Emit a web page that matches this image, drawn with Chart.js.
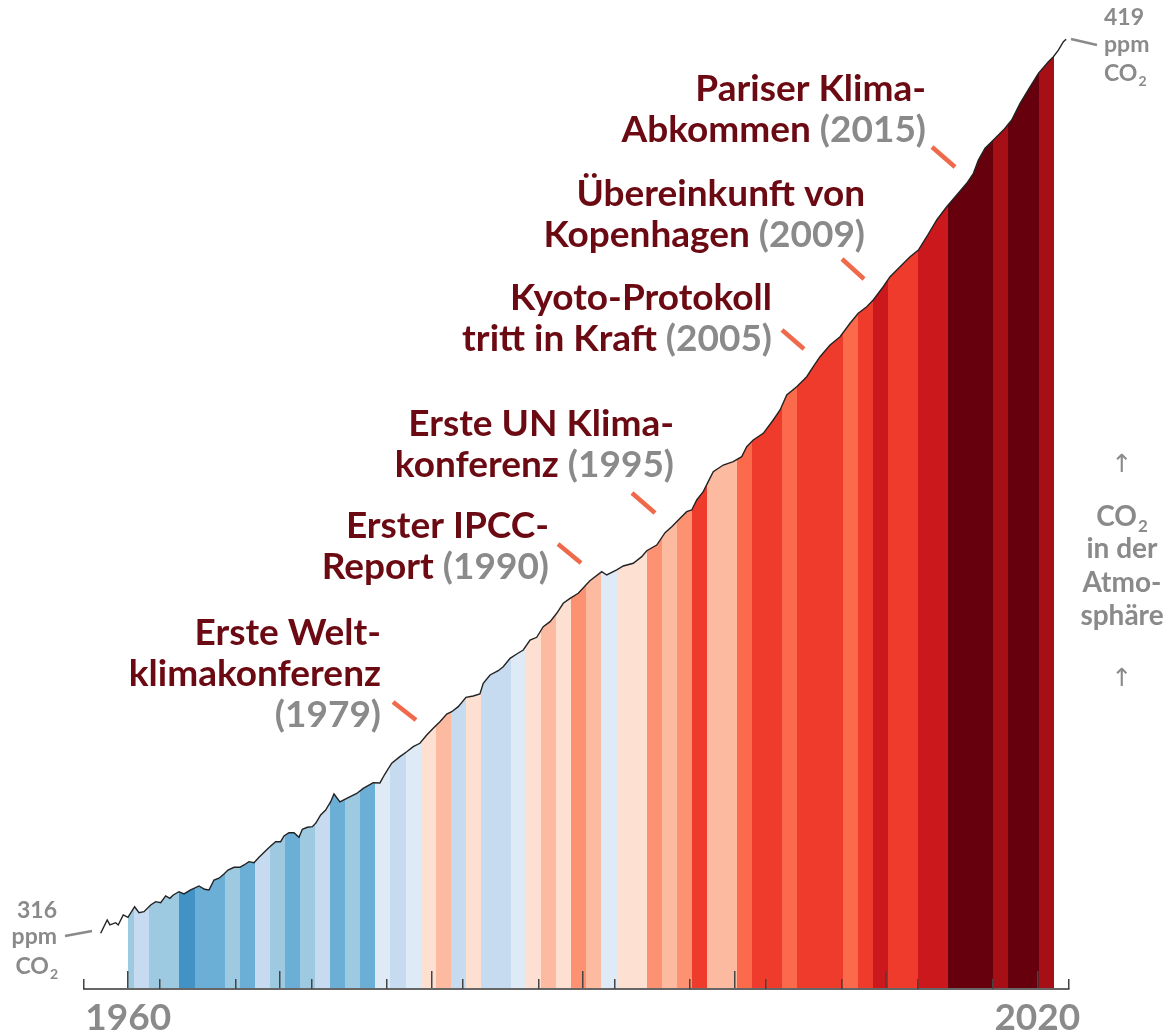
<!DOCTYPE html>
<html><head><meta charset="utf-8">
<script src="https://cdn.jsdelivr.net/npm/chart.js@4.4.1/dist/chart.umd.min.js"></script>
<style>html,body{margin:0;padding:0;background:#fff}#wrap{position:relative;width:1170px;height:1036px}</style>
</head><body><div id="wrap"><canvas id="c"></canvas></div>
<script>
// ---- data ----
const co2Years = [1958.18,1958.61,1958.79,1959.17,1959.34,1959.67,1959.98,1960.42,1960.71,1961.04,
1961.48,1961.81,1962.14,1962.47,1962.75,1962.97,1963.35,1963.68,1964.12,1964.67,
1965.04,1965.33,1965.66,1965.99,1966.32,1966.58,1966.98,1967.37,1967.64,1967.97,
1968.30,1968.63,1969.07,1969.40,1969.73,1970.06,1970.28,1970.61,1970.94,1971.27,
1971.49,1971.82,1972.15,1972.37,1972.70,1973.03,1973.36,1973.58,1973.97,1974.42,
1975.08,1975.51,1976.17,1976.61,1976.94,1977.39,1977.93,1978.38,1978.81,1979.25,
1979.70,1980.13,1980.57,1981.02,1981.35,1981.78,1982.29,1982.77,1983.21,1983.43,
1983.88,1984.42,1984.75,1985.20,1985.64,1986.07,1986.52,1986.96,1987.39,1987.84,
1988.28,1988.71,1989.16,1989.70,1990.47,1991.25,1991.58,1992.24,1992.67,1993.33,
1993.89,1994.22,1994.88,1995.43,1995.87,1996.42,1996.86,1997.19,1997.52,1997.95,
1998.28,1998.61,1999.27,1999.93,2000.49,2000.82,2001.25,2001.91,2002.57,2003.02,
2003.46,2004.12,2004.78,2005.21,2005.66,2006.32,2006.98,2007.64,2008.18,2008.74,
2009.17,2009.83,2010.28,2010.94,2011.60,2012.15,2012.70,2013.36,2014.02,2014.68,
2015.34,2015.78,2016.11,2016.55,2017.10,2017.76,2018.31,2018.86,2019.52,2020.07,
2020.73,2021.06,2021.39,2021.72,2021.90];
const co2Ppm = [316.0,317.53,316.96,317.22,316.96,318.11,317.84,319.06,318.37,318.49,
319.26,319.64,319.53,320.30,320.03,320.41,320.79,320.53,320.99,321.45,
321.07,320.99,322.14,322.34,322.83,323.29,323.60,323.60,323.87,324.25,
324.13,324.76,325.52,326.06,326.55,326.55,327.21,327.59,327.59,327.06,
327.98,328.21,328.28,328.67,329.63,330.20,331.16,332.05,331.13,331.55,
332.11,332.70,333.35,333.32,334.35,335.59,336.35,336.92,337.50,337.89,
338.85,339.62,340.38,341.26,341.53,342.11,343.19,343.34,343.57,344.80,
345.76,346.25,346.71,347.68,348.18,348.64,349.79,350.10,351.32,351.90,
352.87,354.02,354.59,355.17,356.62,357.66,357.28,357.86,358.32,358.63,
359.39,360.08,360.73,362.15,362.84,363.81,364.57,364.77,365.92,366.88,
368.03,369.18,369.95,370.33,370.91,372.06,372.83,373.60,375.14,376.29,
378.02,378.97,380.12,381.28,382.43,383.78,384.73,386.28,387.43,388.19,
388.96,390.49,391.65,392.80,393.95,394.72,396.25,398.18,399.71,401.06,
402.41,403.56,405.09,406.44,407.39,408.54,409.70,411.62,413.53,415.08,
416.41,416.99,417.76,418.72,419.0];

const stripeYears = [1960,1961,1962,1963,1964,1965,1966,1967,1968,1969,
1970,1971,1972,1973,1974,1975,1976,1977,1978,1979,
1980,1981,1982,1983,1984,1985,1986,1987,1988,1989,
1990,1991,1992,1993,1994,1995,1996,1997,1998,1999,
2000,2001,2002,2003,2004,2005,2006,2007,2008,2009,
2010,2011,2012,2013,2014,2015,2016,2017,2018,2019,
2020,2021];
const stripeColors = ['#9ecae1','#c6dbef','#9ecae1','#9ecae1','#4292c6','#6baed6','#6baed6','#9ecae1','#6baed6','#c6dbef',
'#9ecae1','#6baed6','#9ecae1','#c6dbef','#6baed6','#9ecae1','#6baed6','#deebf7','#c6dbef','#deebf7',
'#fee0d2','#fcbba1','#c6dbef','#fee0d2','#c6dbef','#c6dbef','#deebf7','#fee0d2','#fcbba1','#fee0d2',
'#fc9272','#fcbba1','#deebf7','#fee0d2','#fee0d2','#fc9272','#fcbba1','#fc9272','#ef3b2c','#fcbba1',
'#fcbba1','#fb6a4a','#ef3b2c','#ef3b2c','#fb6a4a','#ef3b2c','#ef3b2c','#ef3b2c','#fb6a4a','#ef3b2c',
'#cb181d','#ef3b2c','#ef3b2c','#cb181d','#cb181d','#67000d','#67000d','#67000d','#a50f15','#67000d',
'#67000d','#a50f15'];

const axisLabelYears = [1960, 2020];
const startLabel = ['316', 'ppm'];
const endLabel = ['419', 'ppm'];

// ---- layout / style constants ----
const X_MIN = 1957.08, X_MAX = 2022.09, Y_MIN = 309.58, Y_MAX = 420.07;
const STRIPE_FROM = 1960.0, STRIPE_ORIGIN = 1959.401, STRIPE_W = 0.9947;
const DARK = '#6b0a12', GREY = '#8a8a8a', LEAD = '#ee6a4b';
const FONT = 'Lato, "Open Sans", sans-serif';
const ANN_SIZE = 37;

const ANNOTATIONS = [
  {right: 926, base: [101, 142], lines: [[['Pariser Klima-', DARK]], [['Abkommen', DARK], ['(2015)', GREY]]], lead: [932, 147, 955, 167]},
  {right: 865, base: [206, 247], lines: [[['Übereinkunft von', DARK]], [['Kopenhagen', DARK], ['(2009)', GREY]]], lead: [842, 259, 864, 279]},
  {right: 772, base: [310, 351], lines: [[['Kyoto-Protokoll', DARK]], [['tritt in Kraft', DARK], ['(2005)', GREY]]], lead: [782, 330, 804, 349]},
  {right: 674, base: [436, 477], lines: [[['Erste UN Klima-', DARK]], [['konferenz', DARK], ['(1995)', GREY]]], lead: [632, 493, 655, 513]},
  {right: 549, base: [538, 579], lines: [[['Erster IPCC-', DARK]], [['Report', DARK], ['(1990)', GREY]]], lead: [558, 544, 581, 563]},
  {right: 381, base: [645, 686, 727], lines: [[['Erste Welt-', DARK]], [['klimakonferenz', DARK]], [['(1979)', GREY]]], lead: [393, 702, 416, 720]}
];

function stripeFill(c) {
  const chart = c.chart, area = chart.chartArea, xs = chart.scales && chart.scales.x;
  if (!area || !xs) return 'rgba(0,0,0,0)';
  const L = area.left, R = area.right;
  const g = chart.ctx.createLinearGradient(L, 0, R, 0);
  const off = v => Math.min(1, Math.max(0, (xs.getPixelForValue(v) - L) / (R - L)));
  const clear = 'rgba(255,255,255,0)';
  let s0 = Math.max(STRIPE_FROM, STRIPE_ORIGIN);
  g.addColorStop(0, clear);
  g.addColorStop(off(s0), clear);
  let lastEnd = s0;
  stripeYears.forEach((yr, i) => {
    const s = Math.max(STRIPE_FROM, STRIPE_ORIGIN + (yr - stripeYears[0]) * STRIPE_W);
    const e = STRIPE_ORIGIN + (yr - stripeYears[0] + 1) * STRIPE_W;
    g.addColorStop(off(s), stripeColors[i]);
    g.addColorStop(off(e), stripeColors[i]);
    lastEnd = e;
  });
  g.addColorStop(off(lastEnd), clear);
  g.addColorStop(1, clear);
  return g;
}

function drawCO2(ctx, x, base, size, align) {
  ctx.font = `bold ${size}px ${FONT}`;
  const w1 = ctx.measureText('CO').width;
  const subSize = Math.round(size * 0.62);
  ctx.font = `bold ${subSize}px ${FONT}`;
  const w2 = ctx.measureText('2').width;
  const total = w1 + w2 + 1;
  let left = align === 'left' ? x : align === 'right' ? x - total : x - total / 2;
  ctx.textAlign = 'left';
  ctx.font = `bold ${size}px ${FONT}`;
  ctx.fillText('CO', left, base);
  ctx.font = `bold ${subSize}px ${FONT}`;
  ctx.fillText('2', left + w1 + 1, base + size * 0.22);
}

const annotationPlugin = {
  id: 'annot',
  afterDraw(chart) {
    const ctx = chart.ctx;
    ctx.save();
    ctx.textBaseline = 'alphabetic';
    ctx.font = `bold ${ANN_SIZE}px ${FONT}`;
    const sp = ctx.measureText(' ').width;
    ANNOTATIONS.forEach(a => {
      a.lines.forEach((segs, li) => {
        let x = a.right;
        for (let k = segs.length - 1; k >= 0; k--) {
          const [t, col] = segs[k];
          ctx.fillStyle = col; ctx.textAlign = 'right';
          ctx.fillText(t, x, a.base[li]);
          x -= ctx.measureText(t).width + sp;
        }
      });
      ctx.strokeStyle = LEAD; ctx.lineWidth = 4.5; ctx.lineCap = 'butt';
      ctx.beginPath(); ctx.moveTo(a.lead[0], a.lead[1]); ctx.lineTo(a.lead[2], a.lead[3]); ctx.stroke();
    });
    ctx.fillStyle = GREY;
    ctx.font = `bold 23px ${FONT}`;
    ctx.textAlign = 'right';
    ctx.fillText(startLabel[0], 57, 918);
    ctx.fillText(startLabel[1], 57, 944);
    drawCO2(ctx, 58, 974, 23, 'right');
    ctx.font = `bold 23px ${FONT}`;
    ctx.textAlign = 'left';
    ctx.fillText(endLabel[0], 1104, 25);
    ctx.fillText(endLabel[1], 1104, 52);
    drawCO2(ctx, 1104, 81, 23, 'left');
    ctx.strokeStyle = GREY; ctx.lineWidth = 2.5;
    ctx.beginPath(); ctx.moveTo(65, 936); ctx.lineTo(92, 931); ctx.stroke();
    ctx.beginPath(); ctx.moveTo(1071, 39); ctx.lineTo(1097, 45); ctx.stroke();
    ctx.textAlign = 'center';
    ctx.font = `25px "DejaVu Sans", sans-serif`;
    ctx.fillText('↑', 1122, 472);
    ctx.fillText('↑', 1122, 686);
    drawCO2(ctx, 1122, 526, 28, 'center');
    ctx.font = `bold 28px ${FONT}`;
    ctx.textAlign = 'center';
    ctx.fillText('in der', 1122, 558);
    ctx.fillText('Atmo-', 1122, 592);
    ctx.fillText('sphäre', 1122, 625);
    ctx.restore();
  }
};

const TICK_COLOR = '#444';
new Chart(document.getElementById('c'), {
  type: 'line',
  data: {
    datasets: [{
      data: co2Years.map((x, i) => ({x, y: co2Ppm[i]})),
      borderColor: '#222', borderWidth: 1.4, pointRadius: 0, tension: 0,
      fill: 'start', backgroundColor: stripeFill
    }]
  },
  options: {
    responsive: true, maintainAspectRatio: false, animation: false,
    layout: {padding: {left: 84, right: 101, top: 30, bottom: 47}},
    plugins: {legend: {display: false}, tooltip: {enabled: false}},
    scales: {
      y: {type: 'linear', display: false, min: Y_MIN, max: Y_MAX},
      x: {
        type: 'linear', axis: 'x', min: X_MIN, max: X_MAX, position: {y: Y_MIN},
        ticks: {stepSize: 10, includeBounds: false, autoSkip: false, maxRotation: 0, padding: 26,
          color: GREY, font: {family: FONT, size: 37, weight: 'bold'},
          callback: v => axisLabelYears.includes(Math.round(v)) ? String(Math.round(v)) : ''},
        grid: {drawOnChartArea: false, tickLength: -19, tickColor: TICK_COLOR, lineWidth: 1.5, z: 1},
        border: {display: true, color: '#666', width: 2, z: 1}
      },
      x2: {
        type: 'linear', axis: 'x', min: X_MIN, max: X_MAX, position: {y: Y_MIN},
        ticks: {stepSize: 5, includeBounds: false, autoSkip: false, display: false},
        grid: {drawOnChartArea: false, tickLength: -10, lineWidth: 1.5, z: 1,
          tickColor: c => (c.tick && Math.round(c.tick.value) % 10 === 0) ? 'rgba(0,0,0,0)' : TICK_COLOR},
        border: {display: false}
      }
    }
  },
  plugins: [annotationPlugin]
});
</script></body></html>
